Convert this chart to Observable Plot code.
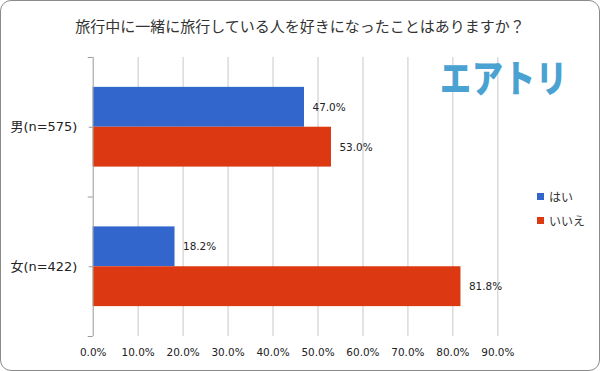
<!DOCTYPE html>
<html><head><meta charset="utf-8">
<script src="https://cdn.jsdelivr.net/npm/d3@7"></script>
<script src="https://cdn.jsdelivr.net/npm/@observablehq/plot@0.6"></script>
<style>
html,body{margin:0;padding:0;background:#fff;}
#wrap{position:relative;width:600px;height:371px;box-sizing:border-box;border:1px solid #8a8a8a;border-radius:11px;overflow:hidden;font-family:"Noto Sans CJK JP","Noto Sans",sans-serif;}
#title{height:44px;line-height:50px;text-align:center;font-size:15px;color:#333;}
#logo{position:absolute;left:439px;top:47px;font-size:31px;font-weight:900;color:#4aa2d2;transform:scaleY(1.22);transform-origin:top left;letter-spacing:1px;}
#legend{position:absolute;left:536px;top:183px;font-size:12px;color:#333;}
#legend div{height:24px;display:flex;align-items:center;}
#legend span.sw{display:inline-block;width:7px;height:7px;margin-right:5px;}
svg{display:block;}
</style></head>
<body>
<div id="wrap">
<div id="title">旅行中に一緒に旅行している人を好きになったことはありますか？</div>
<div id="chart"></div>
<div id="logo">エアトリ</div>
<div id="legend"></div>
</div>
<script>
const categories = ["男(n=575)", "女(n=422)"];
const series = ["はい", "いいえ"];
const yesValues = [47.0, 18.2];
const noValues = [53.0, 81.8];
const xTicks = [0, 10, 20, 30, 40, 50, 60, 70, 80, 90];
const colors = ["#3366cc", "#dc3912"];

const yesData = categories.map((c, i) => ({cat: c, s: series[0], v: yesValues[i]}));
const noData = categories.map((c, i) => ({cat: c, s: series[1], v: noValues[i]}));
const fmt = d => d.toFixed(1) + "%";
const numFont = '"DejaVu Sans","Noto Sans CJK JP",sans-serif';

const chart = Plot.plot({
  width: 600,
  height: 326,
  marginTop: 12,
  marginBottom: 34,
  marginLeft: 92,
  marginRight: 102,
  style: {fontFamily: numFont, color: "#222", background: "transparent"},
  x: {domain: [0, 90]},
  y: {domain: categories, padding: 0},
  color: {domain: series, range: colors},
  marks: [
    Plot.gridX(xTicks.slice(1), {stroke: "#c8c8c8", strokeOpacity: 1}),
    Plot.barX(yesData, {x: "v", y: "cat", fill: "s", insetTop: 30, insetBottom: 70}),
    Plot.barX(noData, {x: "v", y: "cat", fill: "s", insetTop: 70, insetBottom: 30}),
    Plot.text(yesData, {x: "v", y: "cat", text: d => fmt(d.v), dx: 8, dy: -20, textAnchor: "start", fontSize: 10.5, fill: "#222"}),
    Plot.text(noData, {x: "v", y: "cat", text: d => fmt(d.v), dx: 8, dy: 20, textAnchor: "start", fontSize: 10.5, fill: "#222"}),
    Plot.ruleX([0], {stroke: "#999"}),
    Plot.axisX({ticks: xTicks, tickSize: 0, tickPadding: 12, tickFormat: fmt, fontSize: 10.5, label: null}),
    Plot.axisY({tickSize: 4, tickPadding: 12, fontSize: 13, label: null, stroke: "#999"}),
    Plot.axisY({ticks: categories, tickSize: 5, tickFormat: () => "", dy: -70, label: null, stroke: "#999"}),
    Plot.axisY({ticks: categories.slice(-1), tickSize: 5, tickFormat: () => "", dy: 70, label: null, stroke: "#999"})
  ]
});
document.getElementById("chart").appendChild(chart);

const legend = document.getElementById("legend");
series.forEach((s, i) => {
  const row = document.createElement("div");
  row.innerHTML = `<span class="sw" style="background:${colors[i]}"></span><span>${s}</span>`;
  legend.appendChild(row);
});
</script>
</body></html>
